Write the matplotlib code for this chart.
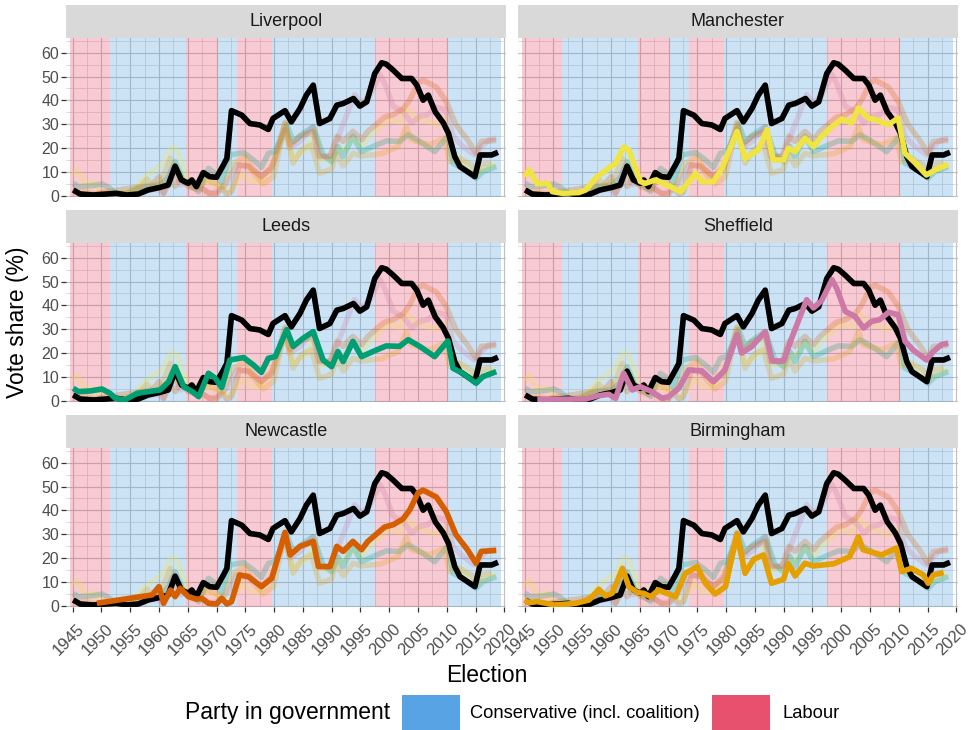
import matplotlib
matplotlib.use("Agg")
import matplotlib.pyplot as plt
from matplotlib.patches import Rectangle
from matplotlib.transforms import ScaledTranslation

plt.rcParams['font.family'] = ['Liberation Sans', 'DejaVu Sans']

# ---- data -------------------------------------------------------------
cities = ["Liverpool", "Manchester", "Leeds", "Sheffield", "Newcastle", "Birmingham"]
city_colours = ["#000000", "#F0E442", "#009E73", "#CC79A7", "#D55E00", "#E69F00"]

liverpool_year = [1945.1, 1946.3, 1948.6, 1952.6, 1954.4, 1956.4, 1958.1, 1960.2, 1961.6, 1962.8,
                  1963.9, 1965.1, 1965.7, 1966.5, 1967.7, 1968.8, 1970.0, 1971.2, 1971.8, 1972.6,
                  1974.4, 1975.8, 1977.5, 1979.0, 1979.8, 1981.9, 1983.0, 1984.5, 1985.6, 1986.8,
                  1987.9, 1989.7, 1990.9, 1992.0, 1993.8, 1994.9, 1996.1, 1997.5, 1998.7, 1999.5,
                  2000.7, 2002.2, 2003.9, 2004.8, 2005.9, 2006.8, 2008.0, 2009.4, 2010.3, 2011.4,
                  2012.3, 2014.9, 2015.8, 2017.8, 2018.9]
liverpool_share = [2.4, 0.7, 0.3, 1.0, 0.3, 0.7, 2.4, 3.5, 4.5, 12.4,
                   6.6, 5.2, 6.6, 3.8, 9.7, 8.0, 7.7, 12.9, 15.7, 35.7,
                   33.8, 30.3, 29.7, 27.8, 32.4, 35.7, 31.0, 36.6, 42.2, 46.4,
                   30.3, 32.4, 38.0, 38.7, 40.8, 37.6, 39.4, 51.3, 55.8, 55.2,
                   52.7, 49.2, 49.2, 46.4, 40.1, 42.2, 35.2, 30.6, 26.2, 16.4,
                   12.2, 8.0, 17.1, 17.1, 18.2]

manchester_year = [1945.0, 1945.8, 1947.2, 1949.0, 1949.8, 1951.5, 1954.4, 1955.6, 1957.6, 1959.6,
                   1960.8, 1962.2, 1963.1, 1965.1, 1966.0, 1967.7, 1969.7, 1972.1, 1974.7, 1975.8,
                   1977.8, 1979.3, 1981.9, 1983.3, 1985.6, 1987.1, 1988.2, 1990.0, 1990.8, 1992.0,
                   1993.7, 1995.2, 1996.6, 1998.4, 2000.1, 2001.8, 2003.0, 2004.7, 2005.9, 2008.2,
                   2009.9, 2011.1, 2012.8, 2014.8, 2016.3, 2018.6]
manchester_share = [8.0, 10.8, 4.9, 5.2, 1.7, 1.0, 1.3, 2.4, 8.0, 11.5,
                    13.6, 20.4, 19.2, 5.9, 5.2, 6.6, 4.5, 1.7, 9.4, 5.9,
                    5.9, 11.5, 27.0, 15.7, 19.2, 27.7, 15.0, 15.0, 20.0, 18.5,
                    24.2, 20.6, 24.9, 29.0, 32.2, 30.5, 36.8, 32.6, 31.9, 29.8,
                    32.6, 17.8, 13.9, 8.7, 10.8, 13.2]

leeds_year = [1945.1, 1946.0, 1948.1, 1950.1, 1951.5, 1952.4, 1954.1, 1956.2, 1958.2, 1960.2,
              1961.7, 1962.8, 1964.3, 1965.8, 1966.9, 1968.6, 1969.8, 1970.9, 1972.3, 1974.7,
              1976.4, 1977.8, 1979.0, 1980.2, 1982.2, 1983.3, 1985.1, 1986.8, 1988.5, 1990.0,
              1991.1, 1992.0, 1993.7, 1995.2, 1997.8, 1999.5, 2001.8, 2003.3, 2005.3, 2007.9,
              2010.2, 2011.1, 2012.8, 2015.1, 2016.3, 2018.6]
leeds_share = [5.2, 3.8, 4.1, 4.9, 3.1, 1.0, 0.3, 3.1, 3.8, 4.5,
               8.0, 14.3, 5.9, 3.8, 1.7, 11.5, 9.4, 5.5, 17.1, 18.1,
               15.0, 11.9, 17.8, 18.5, 29.8, 22.8, 26.3, 29.0, 17.1, 14.3,
               20.6, 16.4, 24.9, 18.5, 21.3, 23.0, 22.8, 25.6, 22.8, 18.5,
               25.1, 13.6, 11.5, 7.3, 10.1, 12.2]

sheffield_year = [1947.2, 1955.6, 1957.6, 1959.6, 1960.8, 1962.2, 1963.7, 1965.1, 1967.1, 1968.9,
                  1970.0, 1971.8, 1973.5, 1975.8, 1977.8, 1979.8, 1981.9, 1982.7, 1984.5, 1986.8,
                  1988.0, 1990.0, 1991.4, 1994.0, 1995.2, 1996.6, 1998.4, 1999.2, 2000.7, 2002.4,
                  2003.9, 2005.3, 2006.7, 2008.2, 2009.9, 2011.1, 2012.5, 2014.8, 2016.0, 2017.4,
                  2018.6]
sheffield_share = [0.6, 0.7, 2.0, 2.7, 1.0, 11.5, 4.5, 5.9, 3.8, 1.0,
                   1.7, 5.2, 12.9, 12.5, 8.0, 12.9, 27.7, 20.0, 22.8, 29.0,
                   16.7, 16.7, 26.3, 42.4, 38.9, 42.0, 50.8, 47.3, 37.5, 35.4,
                   30.5, 33.3, 34.0, 37.1, 36.1, 24.9, 21.3, 17.1, 20.6, 23.5,
                   24.2]

newcastle_year = [1949.2, 1958.8, 1960.0, 1960.8, 1962.0, 1962.8, 1963.7, 1965.1, 1966.6, 1967.4,
                  1968.6, 1970.0, 1970.9, 1971.8, 1972.6, 1974.0, 1975.5, 1977.8, 1979.6, 1981.9,
                  1982.8, 1984.5, 1986.8, 1987.7, 1989.7, 1990.9, 1992.0, 1993.7, 1995.2, 1996.3,
                  1999.2, 2000.7, 2002.4, 2003.6, 2005.0, 2005.9, 2008.2, 2009.9, 2011.6, 2013.6,
                  2015.1, 2016.0, 2018.6]
newcastle_share = [1.0, 4.5, 8.0, 1.0, 6.6, 3.8, 7.3, 3.8, 2.7, 3.1,
                   1.0, 0.7, 3.1, 0.7, 1.7, 12.9, 12.2, 8.0, 11.5, 30.8,
                   21.3, 24.9, 27.0, 16.4, 16.4, 24.9, 22.8, 27.0, 23.5, 27.0,
                   33.0, 34.0, 36.4, 40.3, 47.3, 48.5, 45.6, 39.6, 29.8, 23.5,
                   17.8, 22.8, 23.2]

birmingham_year = [1945.0, 1945.8, 1947.2, 1948.7, 1950.1, 1951.8, 1953.9, 1956.2, 1957.9, 1959.0,
                   1960.2, 1962.0, 1963.1, 1964.6, 1965.7, 1966.9, 1968.3, 1969.7, 1971.2, 1972.9,
                   1975.0, 1976.4, 1978.1, 1979.9, 1981.9, 1983.3, 1984.8, 1986.5, 1987.9, 1990.0,
                   1990.8, 1992.0, 1993.7, 1995.2, 1998.7, 2001.5, 2003.0, 2003.8, 2007.0, 2009.6,
                   2010.5, 2012.2, 2014.3, 2015.1, 2016.0, 2017.8]
birmingham_share = [2.4, 1.3, 1.7, 1.0, 0.3, 0.6, 1.0, 2.4, 6.9, 4.1,
                    5.2, 15.7, 8.0, 5.5, 5.2, 3.8, 6.6, 5.2, 3.8, 13.6,
                    16.4, 9.4, 4.9, 8.0, 30.2, 13.6, 19.5, 21.3, 9.4, 11.1,
                    17.6, 12.5, 17.8, 16.7, 17.6, 20.6, 29.0, 23.5, 21.3, 24.2,
                    14.3, 15.7, 12.9, 9.4, 12.9, 13.9]

city_years = [liverpool_year, manchester_year, leeds_year, sheffield_year, newcastle_year, birmingham_year]
city_shares = [liverpool_share, manchester_share, leeds_share, sheffield_share, newcastle_share, birmingham_share]

# Party in government
gov_start = [1944.5, 1951.5, 1964.7, 1970.2, 1973.5, 1979.6, 1997.6, 2010.3]
gov_end = [1951.5, 1964.7, 1970.2, 1973.5, 1979.6, 1997.6, 2010.3, 2019.5]
gov_party = ["Labour", "Conservative", "Labour", "Conservative", "Labour", "Conservative",
             "Labour", "Conservative"]
party_labels = ["Conservative (incl. coalition)", "Labour"]
party_colours = {"Conservative": "#57A3E3", "Labour": "#E8516E"}

x_ticks = list(range(1945, 2021, 5))
y_ticks = [0, 10, 20, 30, 40, 50, 60]

# ---- layout (pixel based) ---------------------------------------------
W, H = 973, 730
fig = plt.figure(figsize=(W / 100, H / 100), dpi=100)


def px_axes(x0, y0, x1, y1):
    return fig.add_axes([x0 / W, 1 - y1 / H, (x1 - x0) / W, (y1 - y0) / H])


col_x = [(66, 506), (518, 958)]
row_y = [(38, 197), (243, 402), (448, 607)]
strip_h = 33
LW = 4.0

TICK_GREY = "#4D4D4D"
label_shift = ScaledTranslation(4 / 100, -7 / 100, fig.dpi_scale_trans)

for i, city in enumerate(cities):
    r, c = divmod(i, 2)
    x0, x1 = col_x[c]
    y0, y1 = row_y[r]
    ax = px_axes(x0, y0, x1, y1)
    ax.set_xlim(1943.84, 2020.30)
    ax.set_ylim(-0.55, 66.2)
    ax.set_facecolor("white")
    for s in ax.spines.values():
        s.set_visible(False)

    # grid
    ax.set_xticks(x_ticks)
    ax.set_xticks([x + 2.5 for x in x_ticks[:-1]], minor=True)
    ax.set_yticks(y_ticks)
    ax.set_yticks([y + 5 for y in y_ticks], minor=True)
    ax.grid(True, which="major", color="#C0C0C0", linewidth=0.85)
    ax.grid(True, which="minor", color="#D4D4D4", linewidth=0.55)
    ax.set_axisbelow(True)

    # government shading
    for gs, ge, gp in zip(gov_start, gov_end, gov_party):
        ax.axvspan(gs, ge, color=party_colours[gp], alpha=0.3, linewidth=0, zorder=1)

    # faded lines for every city
    for yrs, vals, col in zip(city_years, city_shares, city_colours):
        ax.plot(yrs, vals, color=col, alpha=0.25, linewidth=LW,
                solid_joinstyle="round", solid_capstyle="butt", zorder=2)
    # Liverpool in black, then the panel's own city
    ax.plot(city_years[0], city_shares[0], color=city_colours[0], linewidth=LW,
            solid_joinstyle="round", solid_capstyle="butt", zorder=3)
    if i > 0:
        ax.plot(city_years[i], city_shares[i], color=city_colours[i], linewidth=LW,
                solid_joinstyle="round", solid_capstyle="butt", zorder=4)

    ax.tick_params(which="minor", length=0)
    ax.tick_params(which="major", length=3.5, width=0.9, color="#333333",
                   labelsize=11.5, labelcolor=TICK_GREY, pad=1.5)
    if c == 0:
        ax.set_yticklabels([str(v) for v in y_ticks])
    else:
        ax.tick_params(axis="y", which="major", length=0, labelleft=False)
    if r == 2:
        ax.set_xticklabels([str(v) for v in x_ticks], rotation=45, ha="right",
                           va="top", rotation_mode="anchor", fontsize=12)
        for lbl in ax.get_xticklabels():
            lbl.set_transform(lbl.get_transform() + label_shift)
    else:
        ax.tick_params(axis="x", which="major", length=0, labelbottom=False)

    # strip
    sax = px_axes(x0, y0 - strip_h, x1, y0)
    sax.set_facecolor("#D9D9D9")
    sax.set_xticks([])
    sax.set_yticks([])
    for s in sax.spines.values():
        s.set_visible(False)
    sax.text(0.5, 0.5, city, ha="center", va="center", fontsize=13, color="#1A1A1A",
             transform=sax.transAxes)

# axis titles
fig.text(18 / W, 1 - 322 / H, "Vote share (%)", rotation=90, ha="center", va="center",
         fontsize=16.5, color="black")
fig.text(487 / W, 1 - 675 / H, "Election", ha="center", va="center",
         fontsize=16.5, color="black")

# legend
fig.text(185 / W, 1 - 713 / H, "Party in government", ha="left", va="center",
         fontsize=16.5, color="black")
key_x = [402, 712]
label_x = [470, 782]
for kx, lx, lab, party in zip(key_x, label_x, party_labels, ["Conservative", "Labour"]):
    fig.patches.append(Rectangle((kx / W, 0), 58 / W, 35 / H, transform=fig.transFigure,
                                 facecolor=party_colours[party], edgecolor="none"))
    fig.text(lx / W, 1 - 713 / H, lab, ha="left", va="center", fontsize=13.2, color="black")

fig.savefig("out.png", dpi=100)
